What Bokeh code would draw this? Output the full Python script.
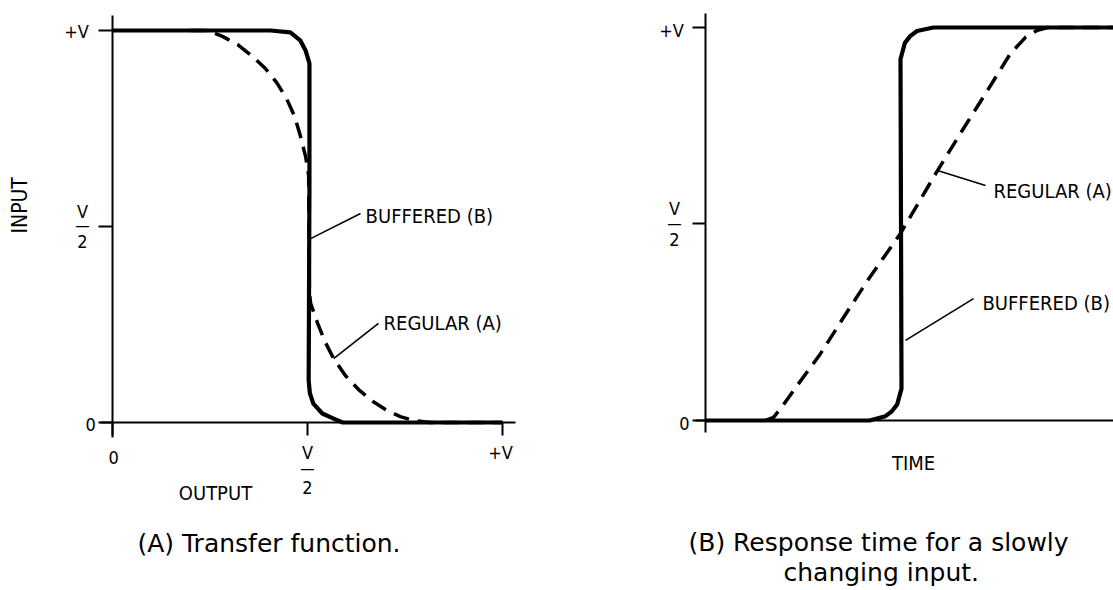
import math
from bokeh.plotting import figure
from bokeh.models import Range1d, FixedTicker, Label, LinearAxis
from bokeh.layouts import row
from bokeh.embed import file_html
from bokeh.resources import INLINE

# ---------------- data ----------------
tick_values = [0, 0.5, 1]

# (A) transfer function: x = output (V), y = input (V)
buf_a_x = [0.0, 0.20, 0.405, 0.456, 0.482, 0.495, 0.505, 0.505, 0.504, 0.503, 0.506, 0.515, 0.538, 0.567, 0.59, 0.75, 1.0]
buf_a_y = [1.0, 1.0, 1.0, 0.995, 0.974, 0.949, 0.916, 0.60, 0.35, 0.107, 0.075, 0.048, 0.023, 0.010, 0.0, 0.0, 0.0]

reg_a_x = [0.20, 0.244, 0.282, 0.321, 0.359, 0.392, 0.421, 0.446, 0.467, 0.482, 0.495, 0.503,
           0.504, 0.505, 0.508, 0.526, 0.546, 0.567, 0.597, 0.631, 0.667, 0.703, 0.738, 0.772, 0.815, 1.0]
reg_a_y = [1.0, 1.0, 0.985, 0.964, 0.934, 0.903, 0.867, 0.827, 0.781, 0.730, 0.679, 0.630,
           0.45, 0.33, 0.304, 0.253, 0.204, 0.163, 0.120, 0.084, 0.054, 0.031, 0.015, 0.005, 0.0, 0.0]

# (B) response time: t = time (arbitrary units), y = voltage (V)
buf_b_t = [0.0, 1.0, 1.64, 1.80, 1.866, 1.917, 1.96, 1.955, 1.95, 1.994, 2.047, 2.115, 2.28, 3.0, 4.3]
buf_b_y = [0.0, 0.0, 0.0, 0.011, 0.024, 0.041, 0.081, 0.50, 0.919, 0.961, 0.978, 0.991, 1.0, 1.0, 1.0]

reg_b_t = [0.60, 0.68, 0.75, 0.88, 1.15, 1.38, 1.62, 1.95, 2.32, 2.58, 2.82, 3.05, 3.20, 3.32, 3.42, 4.3]
reg_b_y = [0.0, 0.008, 0.03, 0.076, 0.170, 0.262, 0.356, 0.476, 0.636, 0.743, 0.840, 0.934, 0.975, 0.993, 1.0, 1.0]

# ---------------- styling ----------------
H = 590
LBL_FONT = "DejaVu Sans Condensed"
CAP_FONT = "DejaVu Sans"
INK = "black"
DASH = "16 9"


def base_fig(width, xr, yr):
    p = figure(width=width, height=H, x_range=Range1d(*xr), y_range=Range1d(*yr),
               output_backend="svg", toolbar_location=None, title=None,
               x_axis_type=None, y_axis_type=None,
               min_border_left=0, min_border_top=0, min_border_right=0, min_border_bottom=0,
               background_fill_color="white", border_fill_color="white")
    p.outline_line_color = None
    return p


def style_axis(ax, ticks, tick_len, bounds):
    ax.ticker = FixedTicker(ticks=ticks, minor_ticks=[])
    ax.major_label_overrides = {t: "" for t in ticks}
    ax.major_label_text_font_size = "0px"
    ax.major_label_standoff = 0
    ax.bounds = bounds
    ax.axis_line_width = 2
    ax.axis_line_color = INK
    ax.major_tick_line_width = 2
    ax.major_tick_line_color = INK
    ax.major_tick_out = 0
    ax.major_tick_in = tick_len
    ax.minor_tick_out = 0
    ax.minor_tick_in = 0


def lab(p, x, y, text, size, font=LBL_FONT, align="center", angle=0.0):
    p.add_layout(Label(x=x, y=y, text=text, text_font=font, text_font_size=f"{size}px",
                       text_align=align, text_baseline="middle", text_color=INK, angle=angle))


def fraction(p, x, y_v, y_bar, y_2, size=18):
    lab(p, x, y_v, "V", size)
    lab(p, x, y_bar, "\u2014", size - 2)
    lab(p, x, y_2, "2", size)


# ---------------- panel A ----------------
pa = base_fig(600, (-0.2872, 1.2513), (-0.4286, 1.0765))
xa = LinearAxis(fixed_location=0)          # ticks point down from the axis
style_axis(xa, tick_values, 13, (-0.031, 1.033))
pa.add_layout(xa, "above")
ya = LinearAxis(fixed_location=0)          # ticks point left from the axis
style_axis(ya, tick_values, 14, (-0.038, 1.038))
pa.add_layout(ya, "right")

pa.line(buf_a_x, buf_a_y, line_color=INK, line_width=4.2, line_join="round")
pa.line(reg_a_x, reg_a_y, line_color=INK, line_width=3.5, line_dash=DASH)

pa.segment(x0=[0.508, 0.567], y0=[0.469, 0.163], x1=[0.636, 0.682], y1=[0.533, 0.253],
           line_color=INK, line_width=1.6)
lab(pa, 0.649, 0.528, "BUFFERED (B)", 20, align="left")
lab(pa, 0.695, 0.253, "REGULAR (A)", 20, align="left")

# tick labels
lab(pa, -0.092, 0.997, "+V", 18)
lab(pa, -0.056, -0.005, "0", 18)
lab(pa, 0.003, -0.089, "0", 18)
lab(pa, 0.995, -0.077, "+V", 18)
fraction(pa, -0.077, 0.538, 0.502, 0.462)
fraction(pa, 0.5, -0.077, -0.118, -0.166)

lab(pa, 0.264, -0.181, "OUTPUT", 20)
lab(pa, -0.236, 0.554, "INPUT", 21, angle=math.pi / 2)
lab(pa, 0.064, -0.309, "(A) Transfer function.", 25, font=CAP_FONT, align="left")

# ---------------- panel B ----------------
pb = base_fig(513, (-1.05, 4.08), (-0.4326, 1.0687))
xb = LinearAxis(fixed_location=0)
style_axis(xb, [], 0, (-0.10, 4.5))
pb.add_layout(xb, "above")
yb = LinearAxis(fixed_location=0)
style_axis(yb, tick_values, 13, (-0.0305, 1.0356))
pb.add_layout(yb, "right")

pb.line(buf_b_t, buf_b_y, line_color=INK, line_width=4.2, line_join="round")
pb.line(reg_b_t, reg_b_y, line_color=INK, line_width=3.5, line_dash=DASH)

pb.segment(x0=[2.0, 2.32], y0=[0.204, 0.636], x1=[2.68, 2.80], y1=[0.310, 0.598],
           line_color=INK, line_width=1.6)
lab(pb, 2.77, 0.300, "BUFFERED (B)", 20, align="left")
lab(pb, 2.88, 0.585, "REGULAR (A)", 20, align="left")

lab(pb, -0.34, 0.992, "+V", 18)
lab(pb, -0.21, -0.008, "0", 18)
fraction(pb, -0.31, 0.539, 0.502, 0.461)
lab(pb, 2.08, -0.109, "TIME", 20)
lab(pb, -0.17, -0.310, "(B) Response time for a slowly", 25, font=CAP_FONT, align="left")
lab(pb, 0.78, -0.387, "changing input.", 25, font=CAP_FONT, align="left")

layout = row(pa, pb, spacing=0)
open("out.html", "w").write(file_html(layout, INLINE))
